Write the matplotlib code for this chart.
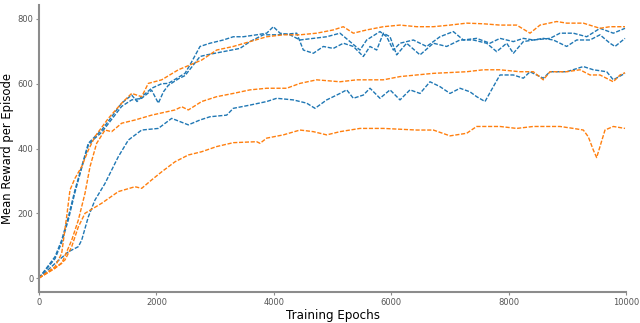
import matplotlib
matplotlib.use("Agg")
import matplotlib.pyplot as plt

BLUE = '#1f77b4'
ORANGE = '#ff7f0e'

# blue run 1 (upper cluster, stays high)
b1_x = [0, 273, 386, 500, 613, 727, 840, 954, 1068, 1238, 1408, 1579, 1670, 1749, 1919,
        2090, 2203, 2487, 2572, 2743, 2913, 3140, 3310, 3480, 3708, 3879, 3992, 4106,
        4276, 4446, 4674, 4901, 5128, 5298, 5468, 5582, 5809, 5923, 6036, 6150, 6377,
        6604, 6831, 7058, 7229, 7456, 7683, 7853, 8081, 8251, 8421, 8705, 8876, 9103,
        9330, 9557, 9784, 9983]
b1_y = [0, 66, 117, 189, 272, 344, 416, 437, 457, 498, 540, 565, 545, 560, 586,
        600, 601, 632, 658, 715, 725, 735, 745, 745, 751, 756, 776, 756,
        751, 735, 740, 745, 756, 730, 704, 735, 761, 745, 704, 725, 735,
        715, 745, 761, 735, 740, 725, 740, 730, 740, 735, 740, 756, 756,
        745, 771, 756, 771]

# blue run 2 (middle band)
b2_x = [0, 273, 500, 670, 727, 840, 954, 1124, 1352, 1522, 1749, 2033, 2260, 2544,
        2743, 2913, 3197, 3310, 3594, 3879, 4049, 4333, 4560, 4702, 4901, 5128, 5242,
        5355, 5525, 5639, 5809, 5980, 6150, 6320, 6491, 6661, 6831, 7002, 7172, 7342,
        7456, 7598, 7740, 7853, 8081, 8251, 8365, 8591, 8705, 8989, 9273, 9444, 9671,
        9784, 9983]
b2_y = [0, 45, 81, 97, 117, 189, 241, 292, 375, 426, 457, 462, 493, 473,
        488, 498, 503, 524, 534, 545, 555, 550, 540, 524, 550, 570, 581,
        555, 565, 586, 555, 581, 550, 581, 570, 606, 591, 570, 586, 575,
        560, 545, 591, 627, 627, 617, 637, 617, 637, 637, 653, 643, 637,
        612, 632]

# blue run 3 (upper cluster, drops after 4400)
b3_x = [0, 273, 386, 500, 613, 727, 840, 954, 1068, 1238, 1408, 1579, 1749, 1919,
        2033, 2120, 2203, 2374, 2487, 2743, 2857, 3140, 3424, 3594, 3821, 4049, 4276,
        4390, 4503, 4674, 4844, 5014, 5185, 5355, 5525, 5639, 5753, 5866, 5980, 6093,
        6263, 6491, 6718, 6945, 7172, 7399, 7626, 7797, 7967, 8081, 8251, 8421, 8591,
        8762, 8989, 9160, 9387, 9557, 9727, 9813, 9983]
b3_y = [0, 60, 110, 180, 265, 340, 410, 432, 450, 490, 530, 550, 555, 580,
        540, 575, 595, 615, 625, 684, 689, 699, 709, 730, 751, 751, 754,
        756, 704, 694, 715, 709, 725, 715, 684, 715, 704, 756, 745, 689,
        725, 689, 725, 715, 735, 735, 725, 699, 725, 694, 730, 735, 740,
        735, 715, 735, 735, 751, 725, 715, 740]

# orange run 1 (top)
o1_x = [0, 273, 386, 471, 528, 613, 727, 840, 954, 1181, 1408, 1579, 1749, 1862, 2090,
        2374, 2771, 3027, 3310, 3594, 3879, 4162, 4446, 4731, 5014, 5184, 5355, 5582,
        5866, 6150, 6434, 6718, 7002, 7286, 7569, 7853, 8138, 8365, 8535, 8819, 8990,
        9273, 9557, 9727, 9983]
o1_y = [0, 35, 76, 189, 272, 308, 344, 395, 437, 493, 540, 570, 560, 601, 612,
        643, 673, 704, 715, 730, 745, 751, 751, 756, 766, 776, 756, 766,
        776, 781, 776, 776, 781, 787, 785, 781, 781, 756, 781, 792, 787,
        787, 771, 776, 776]

# orange run 2 (middle)
o2_x = [0, 386, 557, 670, 784, 869, 982, 1124, 1238, 1408, 1635, 1919, 2317, 2431,
        2544, 2771, 3027, 3310, 3594, 3879, 4219, 4446, 4731, 5128, 5411, 5866, 6150,
        6434, 6718, 7286, 7569, 7853, 8194, 8421, 8591, 8705, 8989, 9216, 9387, 9557,
        9784, 9898, 9983]
o2_y = [0, 45, 117, 179, 262, 344, 416, 457, 452, 478, 488, 503, 519, 529,
        519, 545, 560, 570, 581, 586, 586, 601, 612, 606, 612, 612, 622,
        627, 632, 637, 643, 643, 637, 637, 612, 637, 637, 643, 627, 627,
        606, 627, 634]

# orange run 3 (bottom)
o3_x = [0, 273, 443, 557, 670, 784, 1068, 1352, 1635, 1749, 1919, 2090, 2317, 2544,
        2771, 3027, 3310, 3708, 3765, 3879, 4162, 4446, 4674, 4901, 5128, 5468, 5866,
        6434, 6718, 7002, 7286, 7456, 7853, 8138, 8421, 8876, 9103, 9273, 9358, 9444,
        9500, 9557, 9642, 9784, 9983]
o3_y = [0, 30, 56, 97, 158, 200, 231, 267, 282, 277, 303, 328, 359, 380,
        390, 406, 418, 421, 416, 432, 442, 457, 452, 442, 452, 462, 462,
        457, 457, 439, 447, 468, 468, 462, 468, 468, 462, 457, 436, 395,
        372, 406, 457, 468, 462]

runs = [(b1_x, b1_y, BLUE), (b2_x, b2_y, BLUE), (b3_x, b3_y, BLUE),
        (o1_x, o1_y, ORANGE), (o2_x, o2_y, ORANGE), (o3_x, o3_y, ORANGE)]

fig = plt.figure(figsize=(6.4, 3.23), dpi=100)
ax = fig.add_axes([39 / 640, 1 - 292 / 323, 587 / 640, 287 / 323])

for xs, ys, c in runs:
    ax.plot(xs, ys, color=c, lw=1.0, linestyle=(0, (3, 1.2)))

ax.set_xlim(0, 10000)
ax.set_ylim(-43, 843)
ax.set_xticks([0, 2000, 4000, 6000, 8000, 10000])
ax.set_yticks([0, 200, 400, 600, 800])

for side in ['top', 'right']:
    ax.spines[side].set_visible(False)
for side in ['left', 'bottom']:
    ax.spines[side].set_color('#8c8c8c')
    ax.spines[side].set_linewidth(1.5)
ax.tick_params(colors='#8c8c8c', labelcolor='#555555', labelsize=6,
               length=2.5, width=0.8, pad=1.5)

ax.set_xlabel('Training Epochs', fontsize=8.6)
ax.set_ylabel('Mean Reward per Episode', fontsize=8.4)
ax.xaxis.set_label_coords(0.5, -0.059)
ax.yaxis.set_label_coords(-0.042, 0.5)

fig.savefig('out.png', dpi=100)
